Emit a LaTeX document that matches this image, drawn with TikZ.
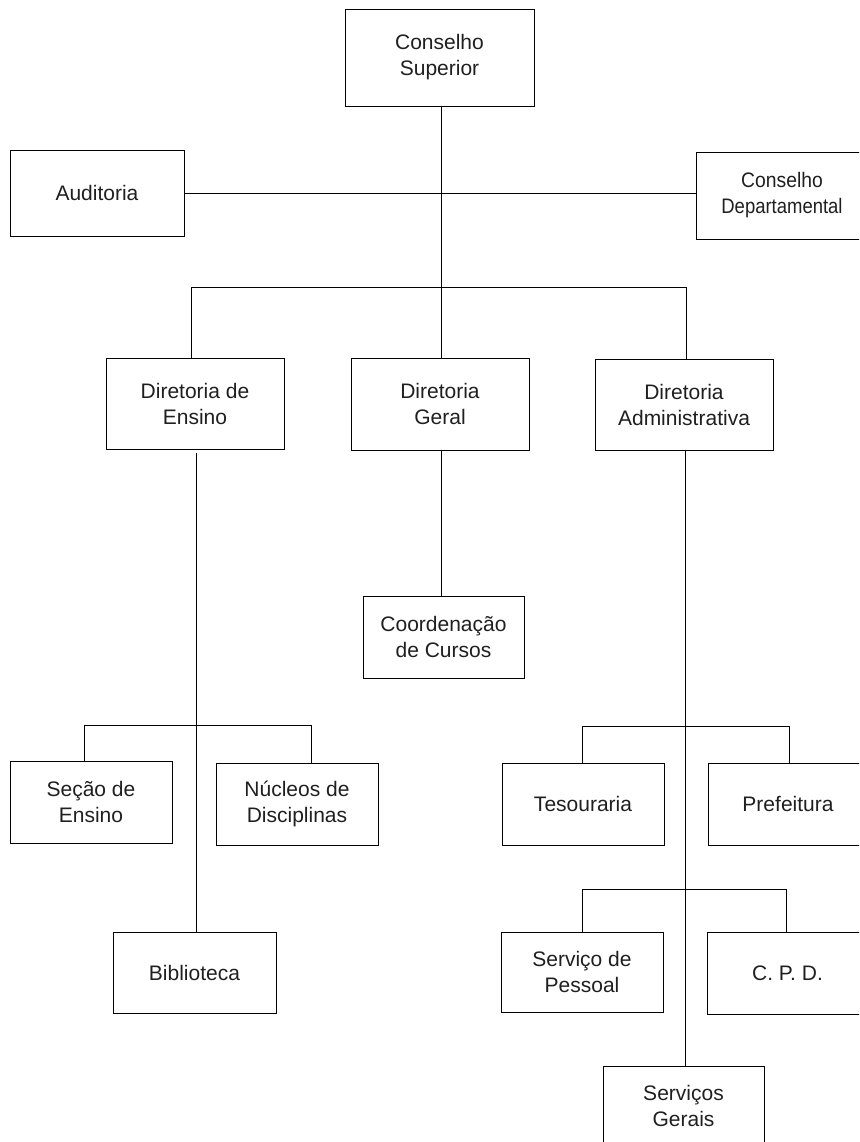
\documentclass[tikz,border=0pt]{standalone}
\usepackage{fontspec}
\setmainfont{Liberation Sans}
\begin{document}
\begin{tikzpicture}[x=1pt,y=-1pt,
  box/.style={draw=black,line width=0.9pt,inner sep=0pt,align=center,
    font=\fontsize{21}{26}\selectfont,text=black!88},
  wire/.style={draw=black,line width=0.9pt}]
\useasboundingbox (0,0) rectangle (859,1142);
\clip (0,0) rectangle (859,1142);
% boxes: center (x,y), width, height
\node[box,minimum width=189pt,minimum height=97pt] (cs)   at (439.5,57.5)  {Conselho\\Superior};
\node[box,minimum width=174pt,minimum height=86pt] (aud)  at (97,193)      {Auditoria};
\node[box,minimum width=172pt,minimum height=87pt] (cd)   at (782,195.5)   {\scalebox{0.92}[1]{Conselho}\\\scalebox{0.88}[1]{Departamental}};
\node[box,minimum width=178pt,minimum height=91pt] (de)   at (195,403.5)   {Diretoria de\\Ensino};
\node[box,minimum width=178pt,minimum height=92pt] (dg)   at (440,404)     {Diretoria\\Geral};
\node[box,minimum width=178pt,minimum height=91pt] (da)   at (684,404.5)   {Diretoria\\Administrativa};
\node[box,minimum width=161pt,minimum height=82pt] (cc)   at (443.5,637)   {Coordenação\\de Cursos};
\node[box,minimum width=162pt,minimum height=82pt] (se)   at (91,802)      {Seção de\\Ensino};
\node[box,minimum width=162pt,minimum height=82pt] (nd)   at (297,804)     {Núcleos de\\Disciplinas};
\node[box,minimum width=163pt,minimum height=81pt] (bib)  at (194.5,972.5) {Biblioteca};
\node[box,minimum width=162pt,minimum height=82pt] (tes)  at (583,804)     {Tesouraria};
\node[box,minimum width=160pt,minimum height=82pt] (pref) at (788,804)     {Prefeitura};
\node[box,minimum width=162pt,minimum height=80pt] (sp)   at (582,972)     {Serviço de\\Pessoal};
\node[box,minimum width=161pt,minimum height=82pt] (cpd)  at (787.5,973)   {C. P. D.};
\node[box,minimum width=161pt,minimum height=80pt] (sg)   at (683.5,1106)  {Serviços\\Gerais};
% junction coordinates
\coordinate (top)   at (441,287);
\coordinate (busL)  at (191,287);
\coordinate (busR)  at (686,287);
\coordinate (eL)    at (84,725);
\coordinate (eR)    at (311,725);
\coordinate (aL1)   at (582,726);
\coordinate (aR1)   at (789,726);
\coordinate (aL2)   at (582,889);
\coordinate (aR2)   at (786,889);
% connectors
\draw[wire] (cs.south -| top) -- (top);
\draw[wire] (aud.east) -- (cd.west |- aud.east);
\draw[wire] (busL) -- (busR);
\draw[wire] (busL) -- (de.north -| busL);
\draw[wire] (top) -- (dg.north -| top);
\draw[wire] (busR) -- (da.north -| busR);
\draw[wire] (196,453) coordinate (deS) -- (bib.north -| deS);
\draw[wire] (eL) -- (eR);
\draw[wire] (eL) -- (se.north -| eL);
\draw[wire] (eR) -- (nd.north -| eR);
\draw[wire] (dg.south -| top) -- (cc.north -| top);
\draw[wire] (685,450) coordinate (daS) -- (sg.north -| daS);
\draw[wire] (aL1) -- (aR1);
\draw[wire] (aL1) -- (tes.north -| aL1);
\draw[wire] (aR1) -- (pref.north -| aR1);
\draw[wire] (aL2) -- (aR2);
\draw[wire] (aL2) -- (sp.north -| aL2);
\draw[wire] (aR2) -- (cpd.north -| aR2);
\end{tikzpicture}
\end{document}
